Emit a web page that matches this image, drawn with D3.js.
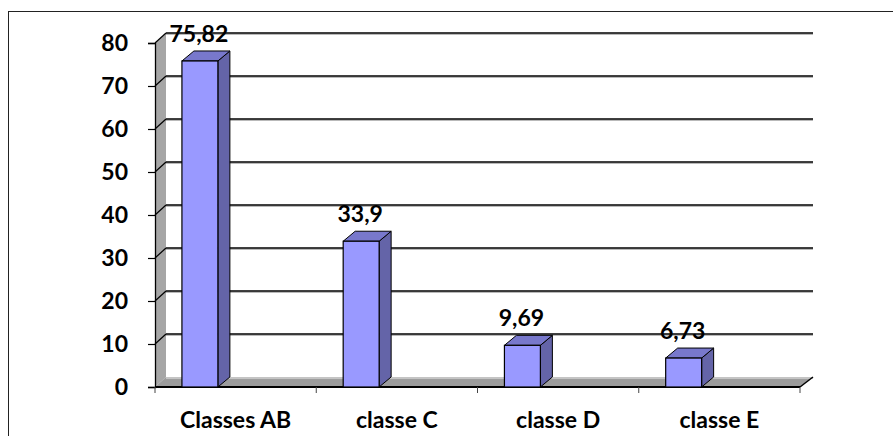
<!DOCTYPE html>
<html>
<head>
<meta charset="utf-8">
<script src="https://cdn.jsdelivr.net/npm/d3@7"></script>
<style>
  html, body { margin: 0; padding: 0; background: #fff; }
  svg { display: block; }
  text { font-family: Lato, "Open Sans", sans-serif; font-weight: 700; fill: #000; }
</style>
</head>
<body>
<svg id="chart" width="893" height="436"></svg>
<script>
// Chart data
const categories = ["Classes AB", "classe C", "classe D", "classe E"];
const values = [75.82, 33.9, 9.69, 6.73];
const valueLabels = ["75,82", "33,9", "9,69", "6,73"];
const yTicks = [0, 10, 20, 30, 40, 50, 60, 70, 80];

(function () {
const svg = d3.select("#chart");
const fontSize = 23;

// 3D plot box: front plane plus a shallow depth offset
const plotLeft = 155, plotRight = 800, plotBottom = 387, plotTop = 43;
const wallDx = 11, wallDy = -10;   // back wall offset
const barDx = 12, barDy = -10;     // column depth

const x = d3.scaleBand().domain(categories).range([plotLeft, plotRight]).padding(0);
const y = d3.scaleLinear().domain([0, 80]).range([plotBottom, plotTop]);

// outer frame
svg.append("rect")
  .attr("x", 8.5).attr("y", 11.5).attr("width", 950).attr("height", 500)
  .attr("fill", "none").attr("stroke", "#222").attr("stroke-width", 1);

// left wall (gray)
svg.append("path")
  .attr("d", `M${plotLeft},${y(0)} L${plotLeft},${y(80)} L${plotLeft + wallDx},${y(80) + wallDy} L${plotLeft + wallDx},${y(0) + wallDy} Z`)
  .attr("fill", "#a6a6a6");

// floor (gray)
svg.append("path")
  .attr("d", `M${plotLeft},${y(0)} L${plotLeft + wallDx},${y(0) + wallDy} L${plotRight + 13},${y(0) + wallDy} L${plotRight},${y(0)} Z`)
  .attr("fill", "#9c9c9c");
svg.append("line")
  .attr("x1", plotLeft + wallDx).attr("x2", plotRight + 13)
  .attr("y1", y(0) + wallDy + 1).attr("y2", y(0) + wallDy + 1)
  .attr("stroke", "#c4c4c4").attr("stroke-width", 2);

// gridlines on the back wall, with diagonal connectors to the front axis
const grid = svg.append("g");
yTicks.filter(t => t > 0).forEach(t => {
  const yb = y(t) + wallDy;
  grid.append("line")
    .attr("x1", plotLeft + wallDx).attr("x2", plotRight + 13)
    .attr("y1", yb + 1.2).attr("y2", yb + 1.2)
    .attr("stroke", "#9a9a9a").attr("stroke-width", 1);
  grid.append("line")
    .attr("x1", plotLeft + wallDx).attr("x2", plotRight + 13)
    .attr("y1", yb).attr("y2", yb)
    .attr("stroke", "#000").attr("stroke-width", 1.6);
  grid.append("line")
    .attr("x1", plotLeft).attr("x2", plotLeft + wallDx)
    .attr("y1", y(t)).attr("y2", yb)
    .attr("stroke", "#000").attr("stroke-width", 1.2);
});

// y axis (front)
const yAxis = d3.axisLeft(y).tickValues(yTicks).tickSize(7).tickPadding(20);
const yg = svg.append("g").attr("transform", `translate(${plotLeft},0)`).call(yAxis);
yg.select(".domain").attr("stroke", "#000").attr("stroke-width", 1.3);
yg.selectAll(".tick line").attr("stroke", "#000").attr("stroke-width", 1.2);
yg.selectAll(".tick text")
  .attr("font-size", fontSize).attr("font-family", "Lato, sans-serif").attr("font-weight", 700)
  .attr("fill", "#000");

// floor front edge and the right diagonal
svg.append("line")
  .attr("x1", plotLeft).attr("x2", plotRight).attr("y1", y(0)).attr("y2", y(0))
  .attr("stroke", "#000").attr("stroke-width", 2);
svg.append("line")
  .attr("x1", plotRight).attr("x2", plotRight + 13).attr("y1", y(0)).attr("y2", y(0) + wallDy)
  .attr("stroke", "#000").attr("stroke-width", 1.5);

// category ticks at band boundaries
const bounds = categories.map(c => x(c)).concat([plotRight]);
svg.append("g").selectAll("line").data(bounds).join("line")
  .attr("x1", d => d).attr("x2", d => d)
  .attr("y1", y(0)).attr("y2", y(0) + 6)
  .attr("stroke", "#444").attr("stroke-width", 1);

// category labels
svg.append("g").selectAll("text").data(categories).join("text")
  .attr("x", d => x(d) + x.bandwidth() / 2)
  .attr("y", 428)
  .attr("text-anchor", "middle")
  .attr("font-size", fontSize)
  .text(d => d);

// 3D columns
const bw = x.bandwidth();
const barOffset = bw * 0.167, barW = bw * 0.223;
const bars = svg.append("g").selectAll("g").data(categories).join("g");
bars.each(function (c, i) {
  const g = d3.select(this);
  const x0 = x(c) + barOffset, x1 = x0 + barW;
  const y0 = y(0), y1 = y(values[i]);
  // side
  g.append("path")
    .attr("d", `M${x1},${y0} L${x1 + barDx},${y0 + barDy} L${x1 + barDx},${y1 + barDy} L${x1},${y1} Z`)
    .attr("fill", "#6464a8").attr("stroke", "#000").attr("stroke-width", 1);
  // top
  g.append("path")
    .attr("d", `M${x0},${y1} L${x0 + barDx},${y1 + barDy} L${x1 + barDx},${y1 + barDy} L${x1},${y1} Z`)
    .attr("fill", "#7878cc").attr("stroke", "#000").attr("stroke-width", 1);
  // front
  g.append("rect")
    .attr("x", x0).attr("y", y1).attr("width", barW).attr("height", y0 - y1)
    .attr("fill", "#9999ff").attr("stroke", "#000").attr("stroke-width", 1.2);
  // value label
  g.append("text")
    .attr("x", (x0 + x1) / 2 - 1)
    .attr("y", y1 - 19)
    .attr("text-anchor", "middle")
    .attr("font-size", fontSize)
    .text(valueLabels[i]);
});
})();
</script>
</body>
</html>
